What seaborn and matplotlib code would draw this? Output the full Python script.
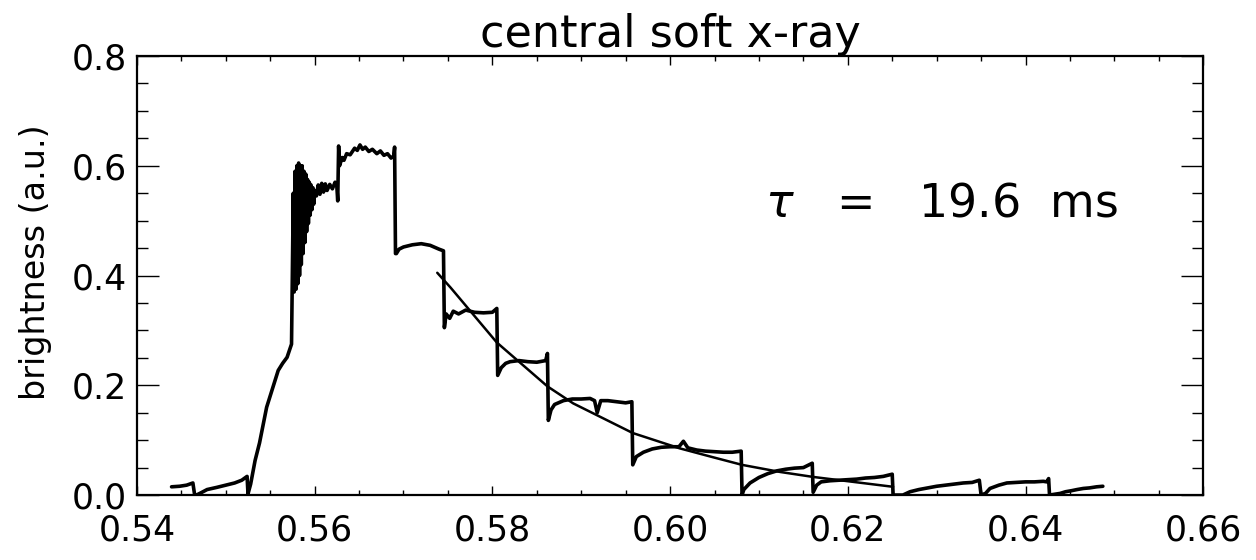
import numpy as np
import pandas as pd
import seaborn as sns
import matplotlib
matplotlib.use("Agg")
import matplotlib.pyplot as plt
from matplotlib.ticker import MultipleLocator, FormatStrFormatter

# central soft x-ray trace (time in s, brightness a.u.)
# first small step + pre-rise
t_pre = [0.5439, 0.5448, 0.5456, 0.5463, 0.5465, 0.5467, 0.5472, 0.5479, 0.5490, 0.5500,
         0.5510, 0.5518, 0.5524, 0.5525]
y_pre = [0.015, 0.016, 0.018, 0.022, 0.000, 0.000, 0.004, 0.010, 0.014, 0.018,
         0.022, 0.027, 0.034, 0.002]
# fast rise
t_rise = [0.5528, 0.5533, 0.5538, 0.5546, 0.5553, 0.5559, 0.5564, 0.5569, 0.5574]
y_rise = [0.020, 0.063, 0.095, 0.160, 0.196, 0.227, 0.240, 0.251, 0.275]
# oscillating burst
t_burst = [0.5576, 0.5577, 0.5578, 0.5579, 0.5580, 0.5581, 0.5582, 0.5583, 0.5584, 0.5585,
           0.5586, 0.5587, 0.5588, 0.5589, 0.5590, 0.5591, 0.5592, 0.5593, 0.5594, 0.5595,
           0.5596, 0.5597, 0.5598, 0.5599, 0.5600, 0.5602, 0.5604, 0.5606, 0.5608, 0.5610,
           0.5612, 0.5614, 0.5617, 0.5620, 0.5623, 0.5625, 0.5626]
y_burst = [0.550, 0.370, 0.590, 0.375, 0.600, 0.385, 0.605, 0.400, 0.600, 0.420,
           0.600, 0.440, 0.590, 0.460, 0.585, 0.480, 0.575, 0.495, 0.570, 0.510,
           0.565, 0.520, 0.560, 0.530, 0.555, 0.545, 0.565, 0.548, 0.568, 0.552,
           0.567, 0.555, 0.566, 0.558, 0.570, 0.562, 0.536]
# top plateau
t_top = [0.5627, 0.5628, 0.5631, 0.5633, 0.5636, 0.5640, 0.5645, 0.5648, 0.5651, 0.5654,
         0.5657, 0.5661, 0.5665, 0.5670, 0.5674, 0.5678, 0.5682, 0.5686, 0.5689, 0.5690]
y_top = [0.636, 0.600, 0.615, 0.610, 0.622, 0.620, 0.632, 0.628, 0.638, 0.630,
         0.634, 0.626, 0.630, 0.622, 0.627, 0.619, 0.622, 0.614, 0.618, 0.634]
# sawtooth steps
t_saw = [0.5691, 0.5692, 0.5695, 0.5700, 0.5710, 0.5720, 0.5730, 0.5740, 0.5745,
         0.5746, 0.5748, 0.5752, 0.5756, 0.5762, 0.5770, 0.5780, 0.5790, 0.5800, 0.5805,
         0.5806, 0.5810, 0.5815, 0.5820, 0.5830, 0.5840, 0.5850, 0.5860, 0.5862,
         0.5863, 0.5866, 0.5870, 0.5880, 0.5890, 0.5900, 0.5910, 0.5915, 0.5918, 0.5922,
         0.5930, 0.5940, 0.5950, 0.5957,
         0.5958, 0.5962, 0.5970, 0.5980, 0.5990, 0.6000, 0.6010, 0.6015, 0.6020, 0.6030,
         0.6040, 0.6050, 0.6060, 0.6070, 0.6080,
         0.6081, 0.6083, 0.6090, 0.6100, 0.6110, 0.6120, 0.6130, 0.6140, 0.6150, 0.6160,
         0.6161, 0.6165, 0.6170, 0.6180, 0.6190, 0.6200, 0.6210, 0.6220, 0.6230, 0.6240,
         0.6250, 0.6251, 0.6262, 0.6270, 0.6280, 0.6290, 0.6300, 0.6310, 0.6320, 0.6330,
         0.6340, 0.6348, 0.6350, 0.6355, 0.6360, 0.6370, 0.6379, 0.6390, 0.6400, 0.6410,
         0.6420, 0.6424, 0.6426, 0.6427, 0.6439, 0.6445, 0.6452, 0.6458, 0.6465, 0.6472,
         0.6480, 0.6487]
y_saw = [0.440, 0.440, 0.448, 0.452, 0.456, 0.458, 0.455, 0.448, 0.445,
         0.305, 0.330, 0.322, 0.335, 0.330, 0.337, 0.333, 0.332, 0.333, 0.340,
         0.218, 0.232, 0.240, 0.243, 0.245, 0.243, 0.242, 0.245, 0.258,
         0.136, 0.155, 0.165, 0.172, 0.175, 0.175, 0.176, 0.172, 0.150, 0.172,
         0.172, 0.170, 0.168, 0.170,
         0.055, 0.070, 0.078, 0.084, 0.087, 0.088, 0.088, 0.098, 0.086, 0.082,
         0.080, 0.079, 0.078, 0.078, 0.080,
         0.000, 0.010, 0.022, 0.032, 0.039, 0.044, 0.047, 0.049, 0.050, 0.058,
         0.005, 0.018, 0.024, 0.026, 0.027, 0.028, 0.029, 0.031, 0.032, 0.034,
         0.038, 0.000, 0.000, 0.006, 0.010, 0.013, 0.016, 0.018, 0.020, 0.022,
         0.023, 0.027, 0.000, 0.003, 0.012, 0.018, 0.022, 0.023, 0.024, 0.024,
         0.025, 0.024, 0.030, 0.000, 0.003, 0.006, 0.008, 0.010, 0.012, 0.013,
         0.015, 0.016]

# exponential fit (tau = 19.6 ms)
t_fit = [0.5738, 0.5753, 0.5805, 0.5862, 0.5891, 0.5958, 0.6011, 0.6048, 0.6081,
         0.6124, 0.6161, 0.6251]
y_fit = [0.405, 0.378, 0.278, 0.198, 0.167, 0.113, 0.085, 0.069, 0.055,
         0.042, 0.033, 0.015]

sig = pd.DataFrame({"t": t_pre + t_rise + t_burst + t_top + t_saw,
                    "y": y_pre + y_rise + y_burst + y_top + y_saw})
fit = pd.DataFrame({"t": t_fit, "y": y_fit})

sns.set_theme(style="ticks")
plt.rcParams["font.family"] = ["DejaVu Sans"]
plt.rcParams["mathtext.fontset"] = "dejavusans"
plt.rcParams["text.color"] = "black"
plt.rcParams["axes.labelcolor"] = "black"
plt.rcParams["xtick.color"] = "black"
plt.rcParams["ytick.color"] = "black"

fig = plt.figure(figsize=(12.56, 5.6), dpi=100)
ax = fig.add_axes([0.109, 0.116, 0.849, 0.784])

sns.lineplot(data=sig, x="t", y="y", sort=False, estimator=None, color="black",
             linewidth=2.6, ax=ax)
sns.lineplot(data=fit, x="t", y="y", sort=False, estimator=None, color="black",
             linewidth=1.8, ax=ax)

ax.set_xlim(0.54, 0.66)
ax.set_ylim(0.0, 0.8)
ax.xaxis.set_major_locator(MultipleLocator(0.02))
ax.xaxis.set_minor_locator(MultipleLocator(0.005))
ax.yaxis.set_major_locator(MultipleLocator(0.2))
ax.yaxis.set_minor_locator(MultipleLocator(0.05))
ax.xaxis.set_major_formatter(FormatStrFormatter("%.2f"))
ax.yaxis.set_major_formatter(FormatStrFormatter("%.1f"))

ax.tick_params(which="both", direction="in", top=True, right=True, color="black", width=1.0)
ax.tick_params(axis="x", which="major", length=6.5, labelsize=25, pad=13)
ax.tick_params(axis="x", which="minor", length=3.3)
ax.tick_params(axis="y", which="major", length=16, labelsize=25, pad=7)
ax.tick_params(axis="y", which="minor", length=8)
for s in ax.spines.values():
    s.set_linewidth(1.6)
    s.set_color("black")

ax.set_xlabel("")
ax.set_ylabel("brightness (a.u.)", fontsize=24)
ax.yaxis.set_label_coords(-0.080, 0.53)
ax.set_title("central soft x-ray", fontsize=32, pad=6)

ax.text(0.6306, 0.53, "$\\tau$   =   19.6  ms", fontsize=33, ha="center", va="center")

fig.savefig("out.png", dpi=100)
